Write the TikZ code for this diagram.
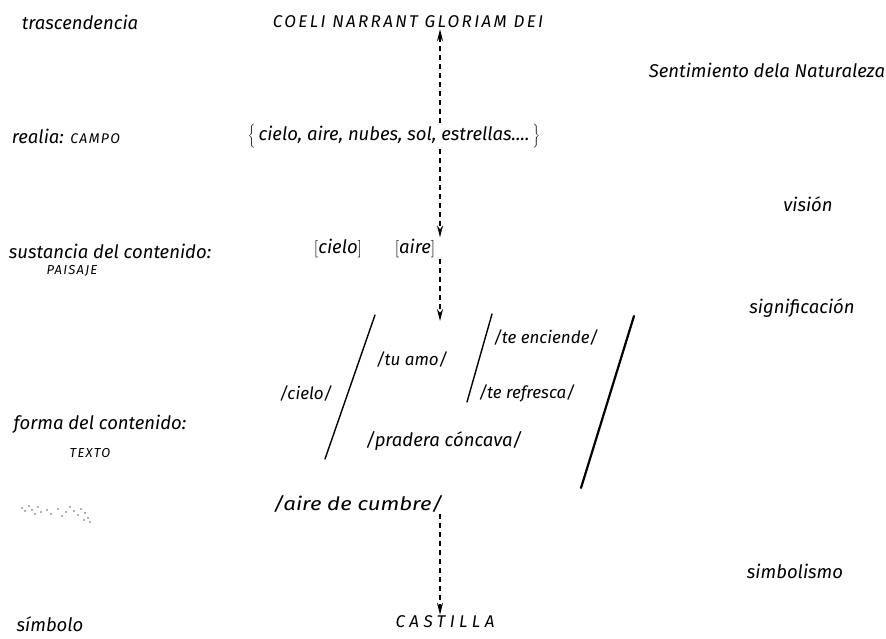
\documentclass[tikz,border=0pt]{standalone}
\usepackage{fontspec}
\setmainfont{Fira Sans}
\newfontfamily\capsfont{Fira Sans}[LetterSpace=14]
\newfontfamily\widecaps{Fira Sans}[LetterSpace=26]
\newfontfamily\smallcaps{Fira Sans}[LetterSpace=10]
\usetikzlibrary{arrows.meta}
\tikzset{
  hand/.style={font=\fontsize{18.5}{20}\selectfont\itshape, inner sep=1pt},
  slim/.style={font=\fontsize{17}{19}\selectfont\itshape, inner sep=1pt},
  caps/.style={font=\fontsize{17}{19}\selectfont\capsfont\itshape, inner sep=1pt},
  lowcaps/.style={font=\fontsize{13}{15}\selectfont\smallcaps\itshape, inner sep=1pt},
  flow/.style={line width=1.2pt, dash pattern=on 5pt off 4pt,
    -{Stealth[length=12pt,width=6pt]}},
  bar/.style={line width=1.4pt, line cap=round},
  heavybar/.style={line width=2.2pt, line cap=round},
}
\begin{document}
\begin{tikzpicture}[x=1pt,y=-1pt]
\useasboundingbox (0,0) rectangle (886,639);

% left column: levels of analysis
\node[hand] (trasc)   at (80,22)   {trascendencia};
\node[hand] (realia)  at (66,136)  {realia: {\smallcaps\fontsize{14}{16}\selectfont CAMPO}};
\node[hand] (sust)    at (110,251) {sustancia del contenido:};
\node[lowcaps] (paisaje) at (72,271) {PAISAJE};
\node[hand] (forma)   at (100,424) {forma del contenido:};
\node[lowcaps] (texto)   at (90,453) {TEXTO};
\node[hand] (simb)    at (50,624)  {símbolo};

% right column: modes of reading
\node[hand] (sent)   at (767,70)  {Sentimiento dela Naturaleza};
\node[hand] (vision) at (808,204) {visión};
\node[hand] (signif) at (802,308) {significación};
\node[hand] (simbol) at (795,571) {simbolismo};

% central column
\node[caps] (coeli) at (408,22) {COELI NARRANT GLORIAM DEI};
\node[hand] (lista) at (394,136)
  {$\bigg\{$\,cielo, aire, nubes, sol, estrellas....\,$\bigg\}$};
\node[hand] (rcielo) at (338,248) {$\big[$cielo$\big]$};
\node[hand] (raire)  at (415,248) {$\big[$aire$\big]$};
\node[slim] (fcielo) at (306,394) {/cielo/};
\node[slim] (tuamo)  at (412,360) {/tu amo/};
\node[slim] (encien) at (546,338) {/te enciende/};
\node[slim] (refres) at (527,393) {/te refresca/};
\node[hand] (prader) at (444,441) {/pradera cóncava/};
\node[hand] (cumbre) at (358,504) {\scalebox{1.2}[1]{/aire de cumbre/}};
\node[font=\fontsize{17}{19}\selectfont\widecaps\itshape, inner sep=1pt]
  (castil) at (445,622) {CASTILLA};

% vertical axis of the arrows
\coordinate (axis) at (440,0);
\coordinate (pivot) at (440,321);

% connectors
\draw[flow] (lista.north -| axis) -- (coeli.south -| axis);
\draw[flow] (lista.south -| axis) -- (raire.north -| axis);
\draw[flow] (raire.south -| axis) -- (pivot);
\draw[flow] (cumbre.south -| axis) -- (castil.north -| axis);

% dividing strokes of the text structure
\draw[bar] (375,315) -- (325,459);
\draw[bar] (492,314) -- (467,402);
\draw[heavybar] (634,316) -- (581,488);

% smudge left by an erased word
\foreach \px/\py in {22/508,25/511,29/506,32/510,35/514,38/507,41/512,
                     47/510,51/514,58/509,66/512,70/507,74/511,78/515,
                     81/509,85/513,88/518,90/522,84/520,62/516}
  \fill[black!60] (\px,\py) circle (0.9pt);
\end{tikzpicture}
\end{document}
